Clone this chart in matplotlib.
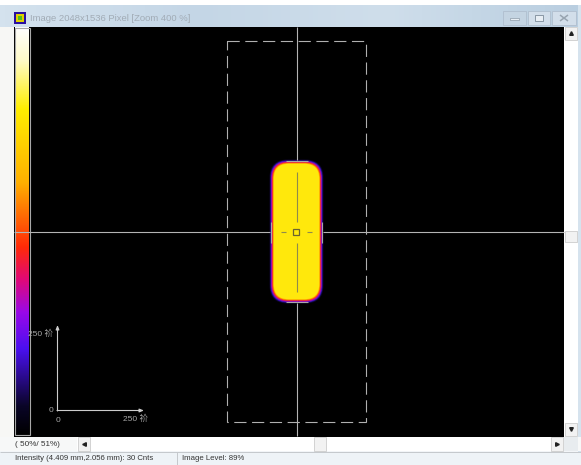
"""Beam profiler window: false colour image with crosshair and colour scale."""
import numpy as np
import matplotlib
matplotlib.use("Agg")
import matplotlib.pyplot as plt
from matplotlib.colors import LinearSegmentedColormap
from matplotlib.patches import FancyBboxPatch, Rectangle

plt.rcParams["font.family"] = ["Liberation Sans", "Noto Sans CJK TC", "DejaVu Sans"]

W, H = 581, 465

title_text = "Image 2048x1536 Pixel [Zoom 400 %]"
zoom_text = "( 50%/ 51%)"
status_text = "Intensity (4.409 mm,2.056 mm): 30 Cnts"
level_text = "Image Level: 89%"
scale_labels = ["0", "250 祄"]

# colour scale, low to high
scale_positions = [0.0, 0.07, 0.21, 0.30, 0.38, 0.46, 0.62, 0.80, 0.92, 1.0]
scale_colors = ["#000000", "#0a0528", "#4a10f0", "#9a08e8", "#e00878",
                "#ff2a08", "#ffb000", "#ffee00", "#fffbc8", "#ffffff"]

# beam contours, outer to inner: left, top, right, bottom, corner radius, colour
beam_layers = [
    (269.5, 159.5, 323.5, 303.5, 18, "#0c0428"),
    (270.3, 160.3, 322.7, 302.7, 17.5, "#24109a"),
    (271.0, 161.0, 322.0, 302.0, 17, "#7410c8"),
    (271.7, 161.7, 321.3, 301.3, 16.5, "#d01080"),
    (272.4, 162.4, 320.6, 300.6, 16, "#ff4a10"),
    (273.1, 163.1, 319.9, 299.9, 15.5, "#ffb000"),
    (273.8, 163.8, 319.2, 299.2, 15, "#ffe80c"),
]

cmap = LinearSegmentedColormap.from_list("beam", list(zip(scale_positions, scale_colors)))

fig = plt.figure(figsize=(W / 100, H / 100), dpi=100, facecolor="#f2f5f8")
ax = fig.add_axes([0, 0, 1, 1])
ax.set_xlim(0, W)
ax.set_ylim(H, 0)
ax.axis("off")


def rect(x0, y0, x1, y1, fc, ec="none", lw=0.0, z=1):
    ax.add_patch(Rectangle((x0, y0), x1 - x0, y1 - y0, fc=fc, ec=ec, lw=lw, zorder=z))


def line(xs, ys, color="#b4b4b4", lw=0.8, z=5, **kw):
    ax.plot(xs, ys, color=color, lw=lw, zorder=z, solid_capstyle="butt", **kw)


# window chrome
rect(0, 0, W, 5, "#ffffff")
title_grad = np.linspace(0, 1, 128).reshape(1, -1)
title_cmap = LinearSegmentedColormap.from_list("title", ["#d4e2ee", "#c4d6e6", "#cfdeeb", "#b9cee0"])
ax.imshow(title_grad, extent=(0, W, 27, 5), cmap=title_cmap, aspect="auto", zorder=1)
ax.set_xlim(0, W)
ax.set_ylim(H, 0)
rect(0, 27, 14, 437, "#f7f7f5")
rect(578, 5, W, H, "#d6e3ee")
rect(0, 452, W, H, "#eef3f7")
line([0, W], [451.5, 451.5], color="#c4c8cc", lw=0.7)

# title bar
rect(14, 12, 26, 24, "#2a10a0", z=2)
rect(16, 14, 24, 22, "#e0d000", z=3)
rect(18, 16, 22, 20, "#50c020", z=4)
ax.text(30, 18.5, title_text, fontsize=6.8, color="#a2acb6", va="center", ha="left")
for x0, x1, fc in [(503, 526, "#c4d4e2"), (528, 550, "#d2deea"), (552, 576, "#d2deea")]:
    ax.add_patch(Rectangle((x0, 11), x1 - x0, 14, fc=fc, ec="#b0bece", lw=0.6, zorder=2))
rect(510, 18, 519, 20, "#e8eef4", ec="#7c8a98", lw=0.4, z=3)
rect(535, 15, 543, 21, "#e8eef4", ec="#7c8a98", lw=0.6, z=3)
line([560, 568], [15, 21], color="#98a4b0", lw=1.1)
line([560, 568], [21, 15], color="#98a4b0", lw=1.1)

# image area
rect(14, 27, 564, 436.5, "#000000", z=1)

# colour scale
ax.add_patch(Rectangle((14.5, 28), 15, 407, fc="none", ec="#a8a8a8", lw=0.8, zorder=4))
scale_grad = np.linspace(1, 0, 256).reshape(-1, 1)
ax.imshow(scale_grad, extent=(15, 29, 435, 28), cmap=cmap, vmin=0, vmax=1, aspect="auto", zorder=3)
ax.set_xlim(0, W)
ax.set_ylim(H, 0)

# beam
for x0, y0, x1, y1, r, col in beam_layers:
    ax.add_patch(FancyBboxPatch((x0 + r, y0 + r), x1 - x0 - 2 * r, y1 - y0 - 2 * r,
                                boxstyle=f"round,pad={r},rounding_size={r}",
                                fc=col, ec="none", zorder=3))

# crosshair outside the beam
line([296.5, 296.5], [27, 160])
line([296.5, 296.5], [303, 436])
line([14, 270], [232, 232])
line([323, 564], [232, 232])
line([286, 308], [161.5, 161.5], color="#a8a8a8")
line([286, 308], [301.5, 301.5], color="#a8a8a8")
line([271, 271], [222, 243], color="#a8a8a8")
line([322, 322], [222, 243], color="#a8a8a8")

# crosshair inside the beam
inner = "#8f8a4c"
line([296.5, 296.5], [172, 222], color=inner)
line([296.5, 296.5], [243, 292], color=inner)
line([281, 286], [232, 232], color=inner)
line([307, 312], [232, 232], color=inner)
ax.add_patch(Rectangle((292.5, 228.5), 6.5, 6.5, fc="none", ec="#6a6430", lw=0.9, zorder=6))

# dashed region of interest
ax.add_patch(Rectangle((227, 41.5), 139, 380, fc="none", ec="#b0b0b0", lw=0.8,
                       ls=(0, (11, 5)), zorder=5))

# scale axes, lower left
ax.annotate("", xy=(57.5, 325), xytext=(57.5, 411), zorder=6,
            arrowprops=dict(arrowstyle="-|>,head_width=0.1,head_length=0.25", color="#cccccc", lw=0.8,
                            shrinkA=0, shrinkB=0))
ax.annotate("", xy=(144, 410.5), xytext=(57, 410.5), zorder=6,
            arrowprops=dict(arrowstyle="-|>,head_width=0.1,head_length=0.25", color="#cccccc", lw=0.8,
                            shrinkA=0, shrinkB=0))
ax.text(53, 334, scale_labels[1], fontsize=6, color="#a8a8a8", ha="right", va="center", zorder=6)
ax.text(53, 410, scale_labels[0], fontsize=6, color="#a8a8a8", ha="right", va="center", zorder=6)
ax.text(57.5, 420, scale_labels[0], fontsize=6, color="#a8a8a8", ha="center", va="center", zorder=6)
ax.text(123, 419, scale_labels[1], fontsize=6, color="#a8a8a8", ha="left", va="center", zorder=6)

# scrollbars
rect(564, 27, 578, 437, "#ffffff")
for y0, y1 in [(27, 40), (423, 436)]:
    ax.add_patch(Rectangle((565, y0), 12, y1 - y0, fc="#f2f2f2", ec="#c4c4c4", lw=0.5, zorder=2))
ax.plot([571], [33], marker="^", ms=2.6, color="#222222", zorder=3)
ax.plot([571], [429], marker="v", ms=2.6, color="#222222", zorder=3)
ax.add_patch(Rectangle((565, 231), 12, 11, fc="#f2f2f2", ec="#c4c4c4", lw=0.5, zorder=2))

rect(0, 437, W, 451, "#f7f8f8")
rect(77, 437, 564, 451, "#ffffff")
for x0, x1 in [(78, 90), (551, 563), (314, 326)]:
    ax.add_patch(Rectangle((x0, 437), x1 - x0, 14, fc="#f2f2f2", ec="#c4c4c4", lw=0.5, zorder=2))
ax.plot([84], [444], marker="<", ms=2.6, color="#222222", zorder=3)
ax.plot([557], [444], marker=">", ms=2.6, color="#222222", zorder=3)
rect(564, 437, 578, 451, "#e8ecef")

# status text
ax.text(15, 444, zoom_text, fontsize=5.9, color="#333333", va="center")
ax.text(15, 458.5, status_text, fontsize=5.6, color="#333333", va="center")
ax.text(182, 458.5, level_text, fontsize=5.6, color="#333333", va="center")
line([177, 177], [452, 465], color="#c4c8cc", lw=0.7)

fig.savefig("out.png", dpi=100, facecolor=fig.get_facecolor())
plt.close(fig)
